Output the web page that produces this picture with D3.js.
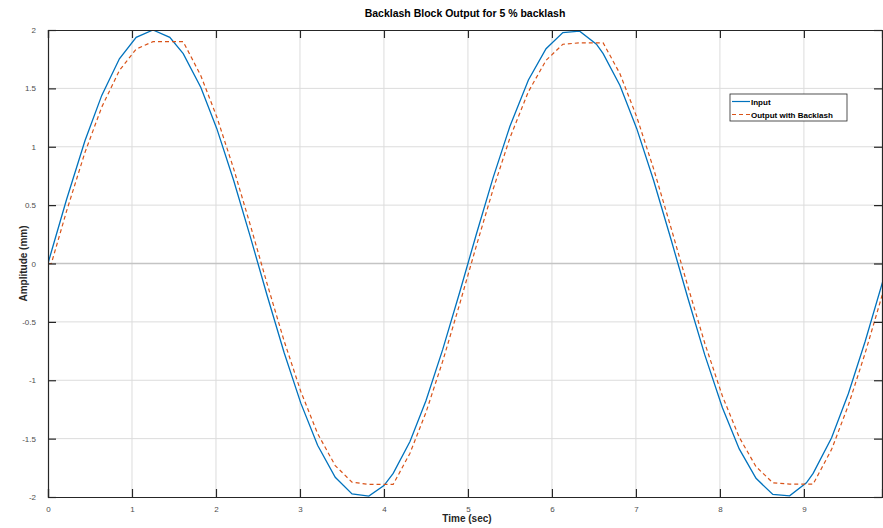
<!DOCTYPE html>
<html>
<head>
<meta charset="utf-8">
<script src="https://cdn.jsdelivr.net/npm/d3@7"></script>
<style>
  body { margin: 0; background: #fff; }
  svg { font-family: "Liberation Sans", Arial, Helvetica, sans-serif; }
  .tick text { fill: #4d4d4d; font-size: 8px; }
</style>
</head>
<body>
<script>
// sample times (sec)
var time = [0, 0.04, 0.22, 0.44, 0.64, 0.85, 1.05, 1.25, 1.45, 1.61, 1.82, 2.01, 2.21, 2.41, 2.61, 2.81,
  3.01, 3.21, 3.42, 3.62, 3.82, 4.00, 4.11, 4.31, 4.50, 4.70, 4.90, 5.10, 5.30, 5.50, 5.72, 5.93,
  6.13, 6.33, 6.53, 6.61, 6.81, 7.01, 7.21, 7.42, 7.62, 7.82, 8.03, 8.23, 8.43, 8.63, 8.83, 9.03,
  9.11, 9.33, 9.53, 9.73, 9.93, 10.13];

// input signal (mm)
var inputAmp = [0, 0.101, 0.546, 1.051, 1.440, 1.753, 1.937, 2.000, 1.937, 1.798, 1.508, 1.155, 0.713, 0.226, -0.276, -0.760,
  -1.196, -1.557, -1.831, -1.973, -1.992, -1.902, -1.798, -1.525, -1.176, -0.736, -0.251, 0.251, 0.736, 1.176, 1.572, 1.840,
  1.978, 1.990, 1.878, 1.798, 1.525, 1.155, 0.713, 0.201, -0.300, -0.783, -1.236, -1.588, -1.840, -1.978, -1.990, -1.878,
  -1.798, -1.492, -1.114, -0.666, -0.176, 0.325];

// output with backlash (mm)
var outputAmp = [0, 0, 0.446, 0.951, 1.340, 1.653, 1.837, 1.900, 1.900, 1.900, 1.608, 1.255, 0.813, 0.326, -0.176, -0.660,
  -1.096, -1.457, -1.731, -1.873, -1.892, -1.892, -1.892, -1.625, -1.276, -0.836, -0.351, 0.151, 0.636, 1.076, 1.472, 1.740,
  1.878, 1.890, 1.890, 1.890, 1.625, 1.255, 0.813, 0.301, -0.200, -0.683, -1.136, -1.488, -1.740, -1.878, -1.890, -1.890,
  -1.890, -1.592, -1.214, -0.766, -0.276, 0.225];

var xTicks = [0, 1, 2, 3, 4, 5, 6, 7, 8, 9];
var yTicks = [-2, -1.5, -1, -0.5, 0, 0.5, 1, 1.5, 2];

var seriesNames = ["Input", "Output with Backlash"];
var colors = ["#0072BD", "#D95319"];

window.onload = function() {
  var W = 883, H = 528;
  var margin = {top: 30, right: 1, bottom: 31, left: 48},
      width = W - margin.left - margin.right,
      height = H - margin.top - margin.bottom;

  var svg = d3.select("body")
    .append("svg")
    .attr("width", W)
    .attr("height", H);

  var g = svg.append("g")
    .attr("transform", "translate(" + margin.left + "," + margin.top + ")");

  var xscale = d3.scaleLinear()
    .domain([0, 9.93])
    .range([0, width]);

  var yscale = d3.scaleLinear()
    .domain([-2, 2])
    .range([height, 0]);

  // grid
  g.append("g").selectAll("line")
    .data(xTicks.slice(1))
    .enter().append("line")
    .attr("x1", function(d) { return xscale(d); })
    .attr("x2", function(d) { return xscale(d); })
    .attr("y1", 0).attr("y2", height)
    .attr("stroke", "#dcdcdc").attr("stroke-width", 1);

  g.append("g").selectAll("line")
    .data(yTicks.slice(1, -1))
    .enter().append("line")
    .attr("x1", 0).attr("x2", width)
    .attr("y1", function(d) { return yscale(d); })
    .attr("y2", function(d) { return yscale(d); })
    .attr("stroke", function(d) { return d == 0 ? "#c4c4c4" : "#dcdcdc"; })
    .attr("stroke-width", function(d) { return d == 0 ? 1.3 : 1; });

  // lines
  svg.append("clipPath").attr("id", "clip")
    .append("rect").attr("width", width).attr("height", height);

  var lineIn = d3.line()
    .x(function(d, i) { return xscale(time[i]); })
    .y(function(d) { return yscale(d); });

  var plot = g.append("g").attr("clip-path", "url(#clip)");

  plot.append("path")
    .datum(inputAmp)
    .attr("d", lineIn)
    .attr("fill", "none")
    .attr("stroke", colors[0])
    .attr("stroke-width", 1.3);

  plot.append("path")
    .datum(outputAmp)
    .attr("d", lineIn)
    .attr("fill", "none")
    .attr("stroke", colors[1])
    .attr("stroke-width", 1.2)
    .attr("stroke-dasharray", "4,3");

  // axes (ticks point inward, box on all sides)
  var tickLen = 8;
  var xAxis = d3.axisBottom(xscale).tickValues(xTicks).tickSize(-tickLen).tickPadding(tickLen + 3);
  var yAxis = d3.axisLeft(yscale).tickValues(yTicks).tickSize(-tickLen).tickPadding(tickLen + 4)
    .tickFormat(function(d) { return d; });

  var gx = g.append("g")
    .attr("transform", "translate(0," + height + ")")
    .call(xAxis);
  var gy = g.append("g").call(yAxis);

  g.append("g")
    .call(d3.axisTop(xscale).tickValues(xTicks).tickSize(-tickLen).tickFormat(""));
  g.append("g")
    .attr("transform", "translate(" + width + ",0)")
    .call(d3.axisRight(yscale).tickValues(yTicks).tickSize(-tickLen).tickFormat(""));

  g.selectAll(".domain").attr("stroke", "#262626").attr("stroke-width", 1.2);
  g.selectAll(".tick line").attr("stroke", "#262626").attr("stroke-width", 1.2);
  gx.selectAll(".tick text").attr("dy", "0.5em");

  // title
  svg.append("text")
    .attr("x", margin.left + width / 2)
    .attr("y", 17)
    .attr("text-anchor", "middle")
    .style("font-size", "10.5px")
    .style("font-weight", "bold")
    .attr("fill", "#000")
    .text("Backlash Block Output for 5 % backlash");

  // x-axis label
  svg.append("text")
    .attr("x", margin.left + width / 2 + 2)
    .attr("y", 522)
    .attr("text-anchor", "middle")
    .style("font-size", "10px")
    .style("font-weight", "bold")
    .attr("fill", "#262626")
    .text("Time (sec)");

  // y-axis label
  svg.append("text")
    .attr("transform", "translate(27," + (margin.top + height / 2) + ") rotate(-90)")
    .attr("text-anchor", "middle")
    .style("font-size", "10px")
    .style("font-weight", "bold")
    .attr("fill", "#262626")
    .text("Amplitude (mm)");

  // legend
  var legend = svg.append("g")
    .attr("class", "legend")
    .attr("transform", "translate(730,94)");

  legend.append("rect")
    .attr("width", 117)
    .attr("height", 27)
    .attr("fill", "#fff")
    .attr("stroke", "#262626")
    .attr("stroke-width", 0.8);

  legend.selectAll("line")
    .data(seriesNames)
    .enter().append("line")
    .attr("x1", 2).attr("x2", 20)
    .attr("y1", function(d, i) { return 7.5 + i * 13; })
    .attr("y2", function(d, i) { return 7.5 + i * 13; })
    .attr("stroke", function(d, i) { return colors[i]; })
    .attr("stroke-width", 1.2)
    .attr("stroke-dasharray", function(d, i) { return i == 1 ? "4,3" : null; });

  legend.selectAll("text")
    .data(seriesNames)
    .enter().append("text")
    .attr("x", 21)
    .attr("y", function(d, i) { return 10.5 + i * 13; })
    .style("font-size", "8px")
    .style("font-weight", "bold")
    .attr("fill", "#000")
    .text(function(d) { return d; });
};
</script>
</body>
</html>
